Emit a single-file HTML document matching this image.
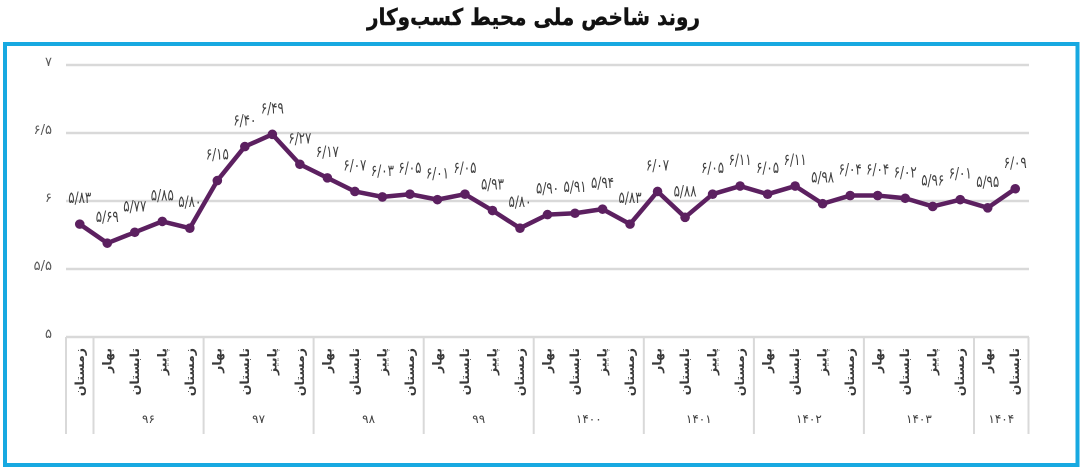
<!DOCTYPE html>
<html><head><meta charset="utf-8">
<style>
html,body{margin:0;padding:0;background:#fff;}
body{width:1083px;height:469px;overflow:hidden;}
svg{display:block;}
.fa{font-family:"DejaVu Sans","Noto Sans CJK SC",sans-serif;}
</style></head>
<body>
<svg width="1083" height="469" viewBox="0 0 1083 469" xmlns="http://www.w3.org/2000/svg">
<rect x="0" y="0" width="1083" height="469" fill="#fff"/>
<text class="fa" x="533.5" y="25" text-anchor="middle" font-size="23" font-weight="bold" fill="#111" stroke="#111" stroke-width="0.4" textLength="333" lengthAdjust="spacingAndGlyphs">روند شاخص ملی محیط کسب‌وکار</text>
<rect x="5" y="44" width="1072.5" height="421" fill="none" stroke="#17a9e1" stroke-width="4"/>

<!-- gridlines -->
<g stroke="#d9d9d9" stroke-width="2.5">
<line x1="66" y1="65" x2="1029" y2="65"/>
<line x1="66" y1="133" x2="1029" y2="133"/>
<line x1="66" y1="201" x2="1029" y2="201"/>
<line x1="66" y1="269" x2="1029" y2="269"/>
<line x1="66" y1="337" x2="1029" y2="337"/>
</g>
<g stroke="#d9d9d9" stroke-width="2">
<line x1="66" y1="337" x2="66" y2="434"/>
<line x1="93.5" y1="337" x2="93.5" y2="434"/>
<line x1="203.6" y1="337" x2="203.6" y2="434"/>
<line x1="313.6" y1="337" x2="313.6" y2="434"/>
<line x1="423.7" y1="337" x2="423.7" y2="434"/>
<line x1="533.7" y1="337" x2="533.7" y2="434"/>
<line x1="643.8" y1="337" x2="643.8" y2="434"/>
<line x1="753.9" y1="337" x2="753.9" y2="434"/>
<line x1="863.9" y1="337" x2="863.9" y2="434"/>
<line x1="974" y1="337" x2="974" y2="434"/>
<line x1="1028.5" y1="337" x2="1028.5" y2="434"/>
</g>

<!-- y labels -->
<g class="fa" font-size="13" fill="#595959" text-anchor="end">
<text x="52" y="66">۷</text>
<text x="52" y="134">۶/۵</text>
<text x="52" y="202">۶</text>
<text x="52" y="270">۵/۵</text>
<text x="52" y="338">۵</text>
</g>

<!-- series -->
<polyline fill="none" stroke="#5c2060" stroke-width="4.5" stroke-linejoin="round" points="79.76,224.12 107.27,243.16 134.79,232.28 162.30,221.40 189.81,228.20 217.33,180.60 244.84,146.60 272.36,134.36 299.87,164.28 327.39,177.88 354.90,191.48 382.41,196.92 409.93,194.20 437.44,199.64 464.96,194.20 492.47,210.52 519.99,228.20 547.50,214.60 575.01,213.24 602.53,209.16 630.04,224.12 657.56,191.48 685.07,217.32 712.59,194.20 740.10,186.04 767.61,194.20 795.13,186.04 822.64,203.72 850.16,195.56 877.67,195.56 905.19,198.28 932.70,206.44 960.21,199.64 987.73,207.80 1015.24,188.76"/>
<g fill="#5c2060">
<circle cx="79.76" cy="224.12" r="4.8"/><circle cx="107.27" cy="243.16" r="4.8"/><circle cx="134.79" cy="232.28" r="4.8"/><circle cx="162.30" cy="221.40" r="4.8"/><circle cx="189.81" cy="228.20" r="4.8"/><circle cx="217.33" cy="180.60" r="4.8"/><circle cx="244.84" cy="146.60" r="4.8"/><circle cx="272.36" cy="134.36" r="4.8"/><circle cx="299.87" cy="164.28" r="4.8"/><circle cx="327.39" cy="177.88" r="4.8"/><circle cx="354.90" cy="191.48" r="4.8"/><circle cx="382.41" cy="196.92" r="4.8"/><circle cx="409.93" cy="194.20" r="4.8"/><circle cx="437.44" cy="199.64" r="4.8"/><circle cx="464.96" cy="194.20" r="4.8"/><circle cx="492.47" cy="210.52" r="4.8"/><circle cx="519.99" cy="228.20" r="4.8"/><circle cx="547.50" cy="214.60" r="4.8"/><circle cx="575.01" cy="213.24" r="4.8"/><circle cx="602.53" cy="209.16" r="4.8"/><circle cx="630.04" cy="224.12" r="4.8"/><circle cx="657.56" cy="191.48" r="4.8"/><circle cx="685.07" cy="217.32" r="4.8"/><circle cx="712.59" cy="194.20" r="4.8"/><circle cx="740.10" cy="186.04" r="4.8"/><circle cx="767.61" cy="194.20" r="4.8"/><circle cx="795.13" cy="186.04" r="4.8"/><circle cx="822.64" cy="203.72" r="4.8"/><circle cx="850.16" cy="195.56" r="4.8"/><circle cx="877.67" cy="195.56" r="4.8"/><circle cx="905.19" cy="198.28" r="4.8"/><circle cx="932.70" cy="206.44" r="4.8"/><circle cx="960.21" cy="199.64" r="4.8"/><circle cx="987.73" cy="207.80" r="4.8"/><circle cx="1015.24" cy="188.76" r="4.8"/>
</g>

<!-- data labels -->
<g class="fa" font-size="16" fill="#404040" text-anchor="middle">
<text x="79.76" y="203.1" textLength="23" lengthAdjust="spacingAndGlyphs">۵/۸۳</text>
<text x="107.27" y="222.2" textLength="23" lengthAdjust="spacingAndGlyphs">۵/۶۹</text>
<text x="134.79" y="211.3" textLength="23" lengthAdjust="spacingAndGlyphs">۵/۷۷</text>
<text x="162.30" y="200.4" textLength="23" lengthAdjust="spacingAndGlyphs">۵/۸۵</text>
<text x="189.81" y="207.2" textLength="23" lengthAdjust="spacingAndGlyphs">۵/۸۰</text>
<text x="217.33" y="159.6" textLength="23" lengthAdjust="spacingAndGlyphs">۶/۱۵</text>
<text x="244.84" y="125.6" textLength="23" lengthAdjust="spacingAndGlyphs">۶/۴۰</text>
<text x="272.36" y="113.4" textLength="23" lengthAdjust="spacingAndGlyphs">۶/۴۹</text>
<text x="299.87" y="143.3" textLength="23" lengthAdjust="spacingAndGlyphs">۶/۲۷</text>
<text x="327.39" y="156.9" textLength="23" lengthAdjust="spacingAndGlyphs">۶/۱۷</text>
<text x="354.90" y="170.5" textLength="23" lengthAdjust="spacingAndGlyphs">۶/۰۷</text>
<text x="382.41" y="175.9" textLength="23" lengthAdjust="spacingAndGlyphs">۶/۰۳</text>
<text x="409.93" y="173.2" textLength="23" lengthAdjust="spacingAndGlyphs">۶/۰۵</text>
<text x="437.44" y="178.6" textLength="23" lengthAdjust="spacingAndGlyphs">۶/۰۱</text>
<text x="464.96" y="173.2" textLength="23" lengthAdjust="spacingAndGlyphs">۶/۰۵</text>
<text x="492.47" y="189.5" textLength="23" lengthAdjust="spacingAndGlyphs">۵/۹۳</text>
<text x="519.99" y="207.2" textLength="23" lengthAdjust="spacingAndGlyphs">۵/۸۰</text>
<text x="547.50" y="193.6" textLength="23" lengthAdjust="spacingAndGlyphs">۵/۹۰</text>
<text x="575.01" y="192.2" textLength="23" lengthAdjust="spacingAndGlyphs">۵/۹۱</text>
<text x="602.53" y="188.2" textLength="23" lengthAdjust="spacingAndGlyphs">۵/۹۴</text>
<text x="630.04" y="203.1" textLength="23" lengthAdjust="spacingAndGlyphs">۵/۸۳</text>
<text x="657.56" y="170.5" textLength="23" lengthAdjust="spacingAndGlyphs">۶/۰۷</text>
<text x="685.07" y="196.3" textLength="23" lengthAdjust="spacingAndGlyphs">۵/۸۸</text>
<text x="712.59" y="173.2" textLength="23" lengthAdjust="spacingAndGlyphs">۶/۰۵</text>
<text x="740.10" y="165.0" textLength="23" lengthAdjust="spacingAndGlyphs">۶/۱۱</text>
<text x="767.61" y="173.2" textLength="23" lengthAdjust="spacingAndGlyphs">۶/۰۵</text>
<text x="795.13" y="165.0" textLength="23" lengthAdjust="spacingAndGlyphs">۶/۱۱</text>
<text x="822.64" y="182.7" textLength="23" lengthAdjust="spacingAndGlyphs">۵/۹۸</text>
<text x="850.16" y="174.6" textLength="23" lengthAdjust="spacingAndGlyphs">۶/۰۴</text>
<text x="877.67" y="174.6" textLength="23" lengthAdjust="spacingAndGlyphs">۶/۰۴</text>
<text x="905.19" y="177.3" textLength="23" lengthAdjust="spacingAndGlyphs">۶/۰۲</text>
<text x="932.70" y="185.4" textLength="23" lengthAdjust="spacingAndGlyphs">۵/۹۶</text>
<text x="960.21" y="178.6" textLength="23" lengthAdjust="spacingAndGlyphs">۶/۰۱</text>
<text x="987.73" y="186.8" textLength="23" lengthAdjust="spacingAndGlyphs">۵/۹۵</text>
<text x="1015.24" y="167.8" textLength="23" lengthAdjust="spacingAndGlyphs">۶/۰۹</text>
</g>

<!-- category labels (rotated) -->
<g class="fa" font-size="12.5" font-weight="bold" fill="#3a3a3a" text-anchor="end">
<text transform="translate(84,348) rotate(-90)">زمستان</text>
<text transform="translate(111.5,348) rotate(-90)">بهار</text>
<text transform="translate(139,348) rotate(-90)">تابستان</text>
<text transform="translate(166.5,348) rotate(-90)">پاییز</text>
<text transform="translate(194,348) rotate(-90)">زمستان</text>
<text transform="translate(221.5,348) rotate(-90)">بهار</text>
<text transform="translate(249,348) rotate(-90)">تابستان</text>
<text transform="translate(276.5,348) rotate(-90)">پاییز</text>
<text transform="translate(304,348) rotate(-90)">زمستان</text>
<text transform="translate(331.5,348) rotate(-90)">بهار</text>
<text transform="translate(359,348) rotate(-90)">تابستان</text>
<text transform="translate(386.5,348) rotate(-90)">پاییز</text>
<text transform="translate(414,348) rotate(-90)">زمستان</text>
<text transform="translate(441.5,348) rotate(-90)">بهار</text>
<text transform="translate(469,348) rotate(-90)">تابستان</text>
<text transform="translate(496.5,348) rotate(-90)">پاییز</text>
<text transform="translate(524,348) rotate(-90)">زمستان</text>
<text transform="translate(551.5,348) rotate(-90)">بهار</text>
<text transform="translate(579,348) rotate(-90)">تابستان</text>
<text transform="translate(606.5,348) rotate(-90)">پاییز</text>
<text transform="translate(634,348) rotate(-90)">زمستان</text>
<text transform="translate(661.5,348) rotate(-90)">بهار</text>
<text transform="translate(689,348) rotate(-90)">تابستان</text>
<text transform="translate(716.5,348) rotate(-90)">پاییز</text>
<text transform="translate(744,348) rotate(-90)">زمستان</text>
<text transform="translate(771.5,348) rotate(-90)">بهار</text>
<text transform="translate(799,348) rotate(-90)">تابستان</text>
<text transform="translate(826.5,348) rotate(-90)">پاییز</text>
<text transform="translate(854,348) rotate(-90)">زمستان</text>
<text transform="translate(881.5,348) rotate(-90)">بهار</text>
<text transform="translate(909,348) rotate(-90)">تابستان</text>
<text transform="translate(936.5,348) rotate(-90)">پاییز</text>
<text transform="translate(964,348) rotate(-90)">زمستان</text>
<text transform="translate(991.5,348) rotate(-90)">بهار</text>
<text transform="translate(1019,348) rotate(-90)">تابستان</text>
</g>

<!-- year labels -->
<g class="fa" font-size="12" fill="#404040" text-anchor="middle">
<text x="148.5" y="423">۹۶</text>
<text x="258.6" y="423">۹۷</text>
<text x="368.6" y="423">۹۸</text>
<text x="478.7" y="423">۹۹</text>
<text x="588.8" y="423">۱۴۰۰</text>
<text x="698.8" y="423">۱۴۰۱</text>
<text x="808.9" y="423">۱۴۰۲</text>
<text x="918.9" y="423">۱۴۰۳</text>
<text x="1001.3" y="423">۱۴۰۴</text>
</g>
</svg>
</body></html>
